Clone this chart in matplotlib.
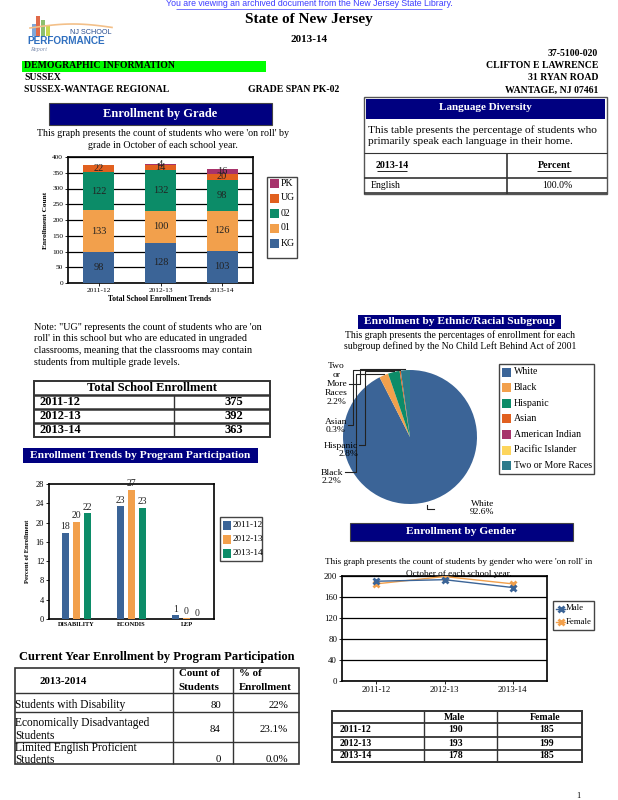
import matplotlib
matplotlib.use('Agg')
import matplotlib.pyplot as plt
import numpy as np
from matplotlib.patches import Rectangle

plt.rcParams['font.family'] = ['Liberation Serif', 'DejaVu Serif']

# ---------------- data ----------------
years = ['2011-12', '2012-13', '2013-14']
grade_names = ['KG', '01', '02', 'UG', 'PK']
kg = [98, 128, 103]
g01 = [133, 100, 126]
g02 = [122, 132, 98]
ug = [22, 14, 20]
pk = [0, 4, 16]
total_enroll = [375, 392, 363]

programs = ['DISABILITY', 'ECONDIS', 'LEP']
prog_2011 = [17.9, 23.4, 0.8]
prog_2012 = [20.2, 26.8, 0.3]
prog_2013 = [22.0, 23.1, 0.0]

eth_names = ['White', 'Black', 'Hispanic', 'Asian', 'American Indian',
             'Pacific Islander', 'Two or More Races']
eth_pct = [92.6, 2.2, 2.8, 0.3, 0.0, 0.0, 2.2]

male = [190, 193, 178]
female = [185, 199, 185]

lang_names = ['English']
lang_pct = ['100.0%']

cur_prog_labels = ['Students with Disability',
                   'Economically Disadvantaged\nStudents',
                   'Limited English Proficient\nStudents']
cur_count = [80, 84, 0]
cur_pct = ['22%', '23.1%', '0.0%']

# ---------------- styles ----------------
C_BLUE = '#3b6497'
C_ORANGE = '#f2a04c'
C_GREEN = '#0c8c68'
C_RED = '#e1601f'
C_MAG = '#a7336b'
C_YEL = '#fdd55c'
C_TEAL = '#2c7a8b'
NAVY = '#000080'
grade_colors = [C_BLUE, C_ORANGE, C_GREEN, C_RED, C_MAG]
eth_colors = [C_BLUE, C_ORANGE, C_GREEN, C_RED, C_MAG, C_YEL, C_TEAL]

W, H = 618, 800
fig = plt.figure(figsize=(6.18, 8), dpi=100)
page = fig.add_axes([0, 0, 1, 1], zorder=0)
page.set_xlim(0, W)
page.set_ylim(H, 0)
page.axis('off')

top = fig.add_axes([0, 0, 1, 1], zorder=10)
top.set_xlim(0, W)
top.set_ylim(H, 0)
top.axis('off')
top.patch.set_alpha(0)


def rect_ax(x, y, w, h):
    return fig.add_axes([x / W, 1 - (y + h) / H, w / W, h / H], zorder=2)


def T(x, y, s, ax=None, **kw):
    kw.setdefault('fontsize', 7.5)
    kw.setdefault('va', 'center')
    return (ax or page).text(x, y, s, **kw)


def navy_box(x, y, w, h, text, fs=9.5):
    page.add_patch(Rectangle((x, y), w, h, facecolor=NAVY, edgecolor='#444444', lw=0.8))
    T(x + w / 2, y + h / 2, text, color='white', fontweight='bold', fontsize=fs, ha='center')


def line(xs, ys, lw=1.0, color='#333333'):
    page.plot(xs, ys, color=color, lw=lw, solid_capstyle='butt')


def box(x0, y0, x1, y1, lw=1.2, color='#333333'):
    page.add_patch(Rectangle((x0, y0), x1 - x0, y1 - y0, fill=False, edgecolor=color, lw=lw))


# ---------------- header ----------------
T(309, 4, 'You are viewing an archived document from the New Jersey State Library.',
  color='#3d3dff', fontsize=6.3, ha='center', family=['Liberation Sans', 'DejaVu Sans'])
line([176, 442], [9, 9], lw=0.5, color='#3d3dff')

# logo
for bx, bh, bc in [(32, 12, '#7fa7d9'), (36, 20, '#e06a4a'), (41, 16, '#8cc06e'), (46, 10, '#c8d84e')]:
    page.add_patch(Rectangle((bx, 36 - bh), 4, bh, color=bc, lw=0))
page.plot(np.linspace(30, 112, 30), 28 - 4 * np.sin(np.linspace(0, 3, 30)), color='#f3c089', lw=1.2)
T(112, 32, 'NJ SCHOOL', fontsize=5.2, ha='right', color='#2a4d8f', family=['Liberation Sans', 'DejaVu Sans'])
T(27, 41, 'PERFORMANCE', fontsize=7.2, ha='left', color='#2f6fbf', fontweight='bold',
  family=['Liberation Sans', 'DejaVu Sans'])
T(30, 50, 'Report', fontsize=4.5, ha='left', color='#8090b0', style='italic')

T(309, 20, 'State of New Jersey', fontsize=11, fontweight='bold', ha='center')
T(309, 40, '2013-14', fontsize=8, fontweight='bold', ha='center')

page.add_patch(Rectangle((22, 60.5), 244, 11, color='#00ff00', lw=0))
T(24, 66, 'DEMOGRAPHIC INFORMATION', fontsize=7, fontweight='bold', ha='left')
T(24, 78, 'SUSSEX', fontsize=7, fontweight='bold', ha='left')
T(24, 90, 'SUSSEX-WANTAGE REGIONAL', fontsize=7, fontweight='bold', ha='left')
T(248, 89, 'GRADE SPAN PK-02', fontsize=7, fontweight='bold', ha='left')
for yy, s in [(54, '37-5100-020'), (66, 'CLIFTON E LAWRENCE'), (78, '31 RYAN ROAD'), (90, 'WANTAGE, NJ 07461')]:
    T(598, yy, s, fontsize=7, fontweight='bold', ha='right')

# ---------------- enrollment by grade ----------------
navy_box(49, 103, 223, 22, 'Enrollment by Grade', fs=9)
T(163, 133, "This graph presents the count of students who were 'on roll' by", ha='center', fontsize=7.2)
T(163, 145, "grade in October of each school year.", ha='center', fontsize=7.2)

ax1 = rect_ax(68, 157, 185, 126)
xpos = np.arange(len(years))
bottom = np.zeros(len(years))
grade_series = [kg, g01, g02, ug, pk]
for name, vals, col in zip(grade_names, grade_series, grade_colors):
    vals = np.array(vals, dtype=float)
    ax1.bar(xpos, vals, 0.5, bottom=bottom, color=col, zorder=3, edgecolor='none')
    for xi, v, b in zip(xpos, vals, bottom):
        if v > 0:
            ax1.text(xi, b + v / 2, f'{int(v)}', ha='center', va='center', fontsize=7.5, zorder=4,
                     color='#222222')
    bottom += vals
ax1.set_ylim(0, 400)
ax1.set_xlim(-0.5, 2.5)
ax1.set_yticks(range(0, 401, 50))
ax1.set_xticks(xpos)
ax1.set_xticklabels(years)
ax1.tick_params(labelsize=5.3, length=2, width=0.6, pad=1.5)
ax1.grid(axis='y', color='black', lw=0.9, zorder=0)
for sp in ax1.spines.values():
    sp.set_linewidth(1.2)
ax1.set_ylabel('Enrollment Count', fontsize=5.3, fontweight='bold', labelpad=3)
T(160, 299, 'Total School Enrollment Trends', fontsize=5.5, fontweight='bold', ha='center')

# grade legend
box(267, 177, 297, 258, lw=1.0, color='#444444')
leg_y = [183, 198, 213, 228, 243]
for yy, nm, col in zip(leg_y, grade_names[::-1], grade_colors[::-1]):
    page.add_patch(Rectangle((270, yy - 4.5), 9, 9, color=col, lw=0))
    T(281, yy, nm, fontsize=7, ha='left')

# ---------------- language diversity ----------------
box(364, 97, 607, 194, lw=1.0, color='#555555')
page.add_patch(Rectangle((366, 99), 239, 20, facecolor=NAVY, lw=0))
T(485.5, 108, 'Language Diversity', color='white', fontweight='bold', fontsize=8, ha='center')
T(368, 130, 'This table presents the percentage of students who', fontsize=8.2, ha='left')
T(368, 142, 'primarily speak each language in their home.', fontsize=8.2, ha='left')
line([364, 607], [153, 153], lw=0.8)
line([364, 607], [178, 178], lw=1.2)
line([364, 607], [193, 193], lw=1.2)
line([507, 507], [153, 194], lw=1.2)
T(392, 166, '2013-14', fontsize=7.2, fontweight='bold', ha='center')
line([377, 407], [171, 171], lw=0.6, color='black')
T(554, 166, 'Percent', fontsize=7.2, fontweight='bold', ha='center')
line([537, 571], [171, 171], lw=0.6, color='black')
for i, (ln, lp) in enumerate(zip(lang_names, lang_pct)):
    T(371, 185.5 + 15 * i, ln, fontsize=7, ha='left')
    T(557, 185.5 + 15 * i, lp, fontsize=7, ha='center')

# ---------------- note + total enrollment table ----------------
note = ['Note: "UG" represents the count of students who are \'on',
        "roll' in this school but who are educated in ungraded",
        'classrooms, meaning that the classrooms may contain',
        'students from multiple grade levels.']
for i, s in enumerate(note):
    T(34, 327 + 11.8 * i, s, fontsize=7.3, ha='left')

tb = [381, 394.5, 408.5, 422.5, 437]
box(34, tb[0], 270, tb[-1], lw=1.4, color='#333333')
for yy in tb[1:-1]:
    line([34, 270], [yy, yy], lw=1.8, color='#333333')
line([174, 174], [tb[1], tb[-1]], lw=1.0)
T(152, (tb[0] + tb[1]) / 2 + 0.5, 'Total School Enrollment', fontsize=9, fontweight='bold', ha='center')
for i, (yr, tv) in enumerate(zip(years, total_enroll)):
    yy = (tb[i + 1] + tb[i + 2]) / 2 + 0.5
    T(40, yy, yr, fontsize=9, fontweight='bold', ha='left')
    T(243, yy, str(tv), fontsize=9, fontweight='bold', ha='right')

# ---------------- program participation trend ----------------
page.add_patch(Rectangle((23, 448), 235, 15, facecolor=NAVY, lw=0))
T(140.5, 455.5, 'Enrollment Trends by Program Participation', color='white', fontweight='bold',
  fontsize=8.2, ha='center')

ax2 = rect_ax(49, 484, 165, 135)
px = np.arange(len(programs))
prog_series = [prog_2011, prog_2012, prog_2013]
prog_cols = [C_BLUE, C_ORANGE, C_GREEN]
for k, (vals, col) in enumerate(zip(prog_series, prog_cols)):
    bars = ax2.bar(px + (k - 1) * 0.2, vals, 0.13, color=col, zorder=3)
    ax2.bar_label(bars, labels=[f'{round(v)}' for v in vals], fontsize=7, padding=1, color='#222222')
ax2.set_xlim(-0.5, 2.5)
ax2.set_ylim(0, 28)
ax2.set_yticks(range(0, 29, 4))
ax2.set_xticks(px)
ax2.set_xticklabels(programs, fontweight='bold')
ax2.tick_params(axis='y', labelsize=6, length=2, width=0.6, pad=1.5)
ax2.tick_params(axis='x', labelsize=4.6, length=0, pad=2)
for sp in ax2.spines.values():
    sp.set_linewidth(1.2)
ax2.set_ylabel('Percent of Enrollment', fontsize=4.8, fontweight='bold', labelpad=4)

box(220, 517, 262, 561, lw=1.0, color='#444444')
for yy, nm, col in zip([525, 539, 553], years, prog_cols):
    page.add_patch(Rectangle((223, yy - 4.5), 8, 9, color=col, lw=0))
    T(232.5, yy, nm, fontsize=6.6, ha='left')

# ---------------- current year table ----------------
T(19, 657, 'Current Year Enrollment by Program Participation', fontsize=9, fontweight='bold', ha='left')
rows = [668, 693, 712, 742, 764]
cols = [15, 173, 233, 299]
box(cols[0], rows[0], cols[-1], rows[-1], lw=1.2)
for yy in rows[1:-1]:
    line([cols[0], cols[-1]], [yy, yy], lw=1.0)
for xx in cols[1:-1]:
    line([xx, xx], [rows[0], rows[-1]], lw=1.0)
T(63, 682, '2013-2014', fontsize=7.8, fontweight='bold', ha='center')
T(199, 674, 'Count of', fontsize=7.8, fontweight='bold', ha='center')
T(199, 687, 'Students', fontsize=7.8, fontweight='bold', ha='center')
T(239, 674, '% of', fontsize=7.8, fontweight='bold', ha='left')
T(239, 687, 'Enrollment', fontsize=7.8, fontweight='bold', ha='left')
row_txt_y = [[705], [723, 736], [748, 760]]
row_val_y = [705, 730, 760]
for lab, ty, vy, c, p in zip(cur_prog_labels, row_txt_y, row_val_y, cur_count, cur_pct):
    for s, yy in zip(lab.split('\n'), ty):
        T(15, yy, s, fontsize=8.3, ha='left')
    T(221, vy, str(c), fontsize=7.8, ha='right')
    T(288, vy, p, fontsize=7.8, ha='right')

# ---------------- ethnic pie ----------------
page.add_patch(Rectangle((358, 315), 203, 14, facecolor=NAVY, lw=0))
T(459.5, 322, 'Enrollment by Ethnic/Racial Subgroup', color='white', fontweight='bold', fontsize=8.2, ha='center')
T(460, 335, 'This graph presents the percentages of enrollment for each', fontsize=7, ha='center')
T(460, 346, 'subgroup defined by the No Child Left Behind Act of 2001', fontsize=7, ha='center')

cx, cy, R = 410, 437, 67
ax3 = rect_ax(cx - R, cy - R, 2 * R, 2 * R)
ax3.pie(eth_pct, colors=eth_colors, startangle=90, counterclock=False,
        wedgeprops=dict(linewidth=0), radius=1.0)
ax3.set_xlim(-1, 1)
ax3.set_ylim(-1, 1)
ax3.set_aspect('auto')
ax3.axis('off')

# leader lines from slice mid-angles
tot = sum(eth_pct)
cum = np.cumsum([0] + eth_pct)
mid_ang = {}
for i, nm in enumerate(eth_names):
    a0 = 90 - 360 * cum[i] / tot
    a1 = 90 - 360 * cum[i + 1] / tot
    mid_ang[nm] = np.deg2rad((a0 + a1) / 2)


def rim(nm, f=1.0):
    a = mid_ang[nm]
    return cx + R * f * np.cos(a), cy - R * f * np.sin(a)


lead = {  # name: (vertical x, label y, label right end x)
    'Two or More Races': (360, 384, 349),
    'Asian': (353, 425, 348),
    'Hispanic': (365, 445, 359),
    'Black': (356, 472, 345),
}
for nm, (xv, yl, xe) in lead.items():
    rx, ry = rim(nm)
    top.plot([rx, xv, xv, xe], [ry - 1, ry - 1, yl, yl], color='#222222', lw=0.8)

pct_txt = {nm: f'{v:.1f}%' for nm, v in zip(eth_names, eth_pct)}
T(348, 384, 'Two\nor\nMore\nRaces\n' + pct_txt['Two or More Races'], ax=top, fontsize=6.8, ha='right',
  multialignment='center', linespacing=1.15)
T(347, 426, 'Asian\n' + pct_txt['Asian'], ax=top, fontsize=6.8, ha='right', multialignment='center',
  linespacing=1.1)
T(358, 450, 'Hispanic\n' + pct_txt['Hispanic'], ax=top, fontsize=6.8, ha='right', multialignment='right',
  linespacing=1.1)
T(343, 477, 'Black\n' + pct_txt['Black'], ax=top, fontsize=6.8, ha='right', multialignment='center',
  linespacing=1.1)
wx, wy = rim('White', 1.0)
top.plot([427, 427, 434], [505, 509, 509], color='#222222', lw=0.8)
T(470, 508, 'White\n' + pct_txt['White'], ax=top, fontsize=6.8, ha='left', multialignment='right',
  linespacing=1.1)

box(499, 364, 594, 474, lw=1.0, color='#444444')
for i, (nm, col) in enumerate(zip(eth_names, eth_colors)):
    yy = 372 + 15.6 * i
    page.add_patch(Rectangle((502, yy - 4.5), 9, 9, color=col, lw=0))
    T(513.5, yy, nm, fontsize=7.1, ha='left')

# ---------------- gender ----------------
navy_box(350, 523, 223, 18, 'Enrollment by Gender', fs=8.2)
T(459, 562, "This graph presents the count of students by gender who were 'on roll' in", fontsize=6.6, ha='center')
T(459, 573.5, 'October of each school year.', fontsize=6.6, ha='center')

ax4 = rect_ax(342, 576, 205, 105)
gx = np.arange(len(years))
ax4.plot(gx, male, color=C_BLUE, lw=1.0, marker='x', ms=5, mew=2, zorder=4)
ax4.plot(gx, female, color=C_ORANGE, lw=1.0, marker='x', ms=5, mew=2, zorder=3)
ax4.set_xlim(-0.5, 2.5)
ax4.set_ylim(0, 200)
ax4.set_yticks(range(0, 201, 40))
ax4.set_xticks(gx)
ax4.set_xticklabels(years)
ax4.tick_params(labelsize=6.3, length=2, width=0.6, pad=1.5)
ax4.grid(axis='y', color='black', lw=0.9, zorder=0)
ax4.patch.set_alpha(0)
for sp in ax4.spines.values():
    sp.set_linewidth(1.2)

box(553, 601, 594, 630, lw=1.0, color='#444444')
for yy, nm, col in zip([608.5, 622], ['Male', 'Female'], [C_BLUE, C_ORANGE]):
    page.plot([556, 565], [yy, yy], color=col, lw=1)
    page.plot([560.5], [yy], marker='x', ms=5, mew=2, color=col)
    T(566, yy, nm, fontsize=6.3, ha='left')

# gender table
gr = [711, 723, 737, 750, 762]
gc = [332, 424, 497, 582]
box(gc[0], gr[0], gc[-1], gr[-1], lw=1.4)
for yy in gr[1:-1]:
    line([gc[0], gc[-1]], [yy, yy], lw=1.3)
for xx in gc[1:-1]:
    line([xx, xx], [gr[0], gr[-1]], lw=1.0)
T(454, 717, 'Male', fontsize=7, fontweight='bold', ha='center')
T(545, 717, 'Female', fontsize=7, fontweight='bold', ha='center')
for i, (yr, m, f) in enumerate(zip(years, male, female)):
    yy = (gr[i + 1] + gr[i + 2]) / 2
    T(340, yy, yr, fontsize=7, fontweight='bold', ha='left')
    T(456, yy, str(m), fontsize=7, fontweight='bold', ha='center')
    T(547, yy, str(f), fontsize=7, fontweight='bold', ha='center')

T(578, 796, '1', fontsize=6, ha='center')

fig.savefig('out.png', dpi=100)
